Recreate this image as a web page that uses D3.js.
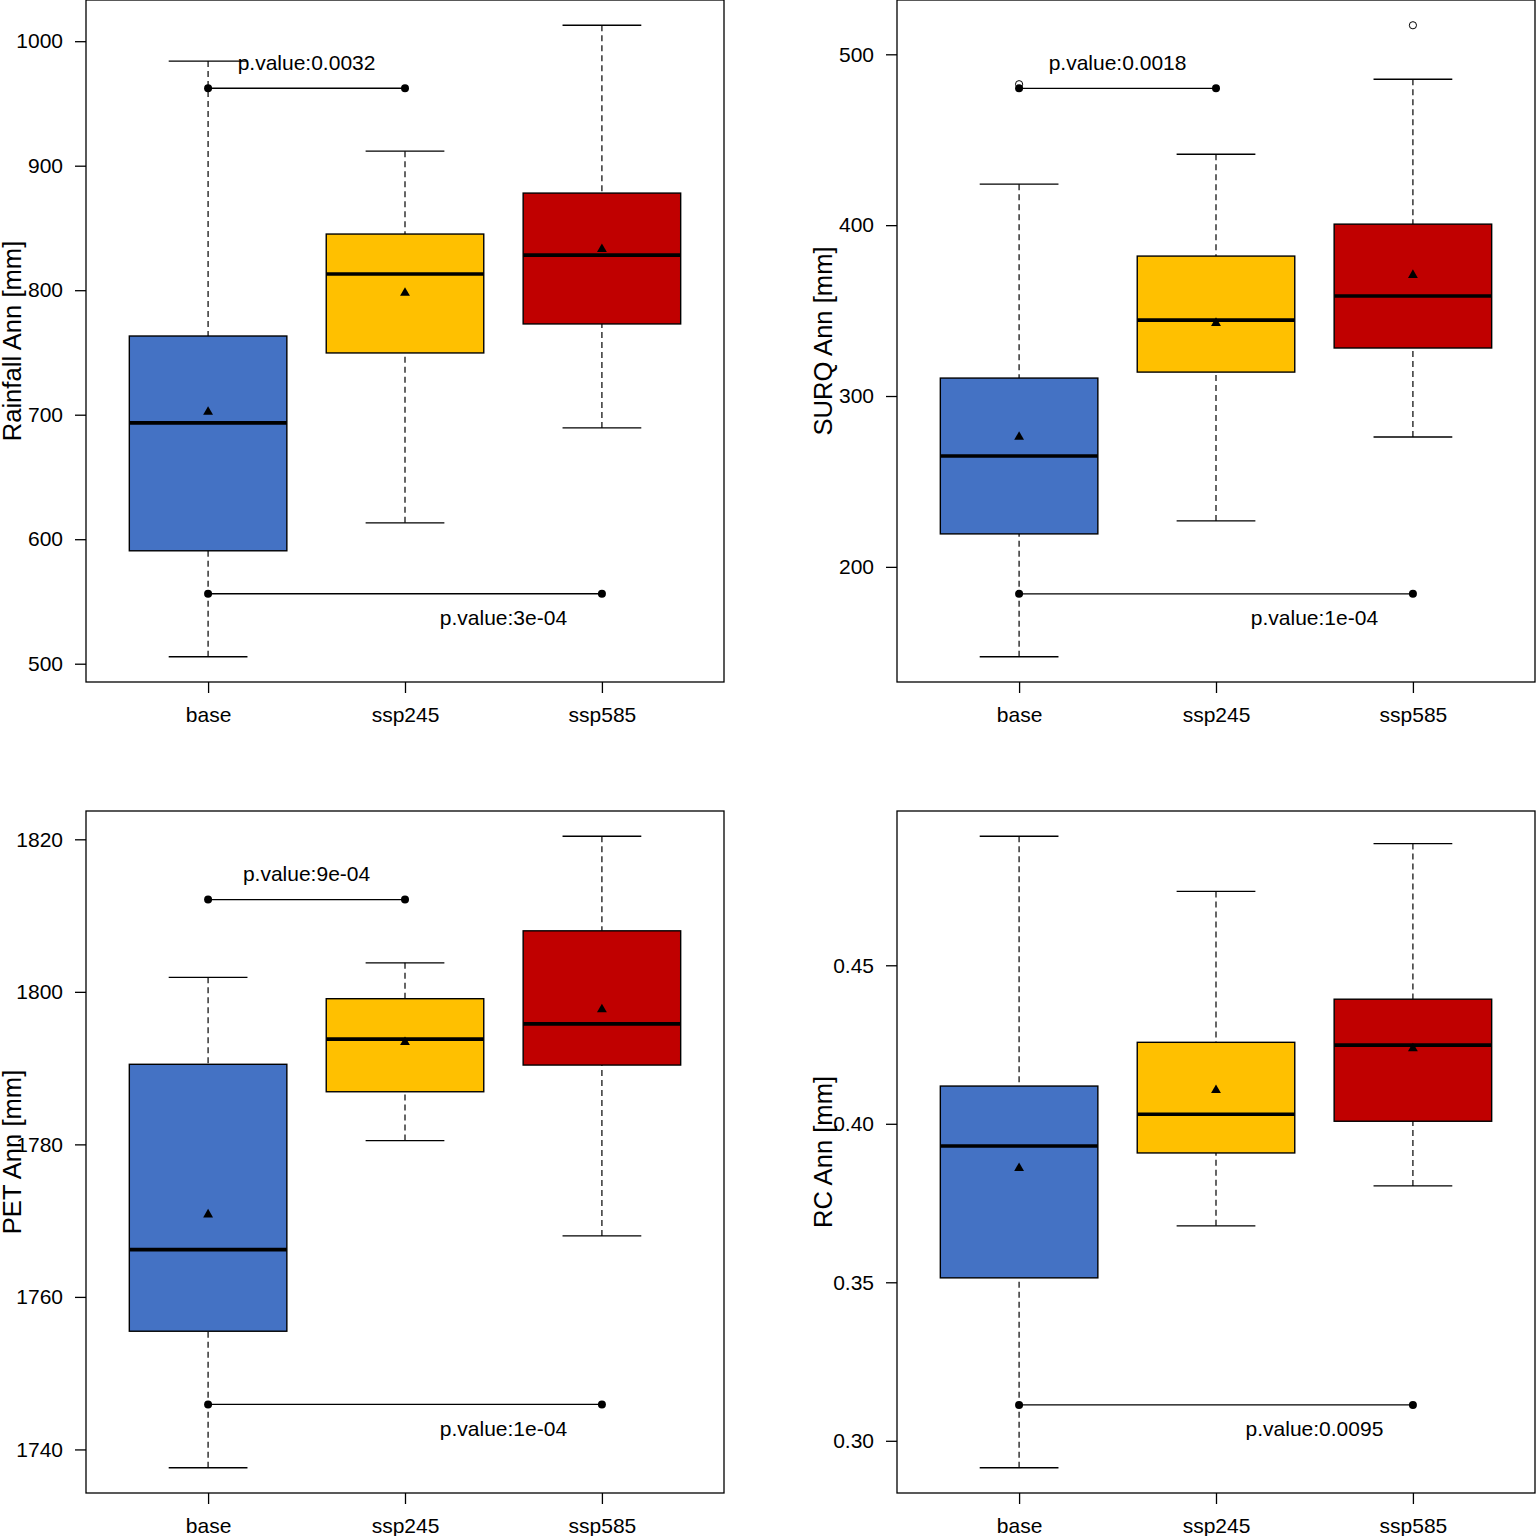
<!DOCTYPE html>
<html>
<head>
<meta charset="utf-8">
<script src="https://cdn.jsdelivr.net/npm/d3@7"></script>
<style>
  body { margin: 0; background: #fff; }
  svg { display: block; }
  text { font-family: "Liberation Sans", Arial, sans-serif; fill: #000; }
</style>
</head>
<body>
<svg id="chart"></svg>
<script>
// groups and fills
const groups = ["base", "ssp245", "ssp585"];
const fills = ["#4472C4", "#FFC000", "#C00000"];

// box stats per group: [lower whisker, Q1, median, Q3, upper whisker]
const rainfallBox = [[505.6, 590.7, 693.4, 763.2, 984.0], [613.2, 749.6, 813.0, 845.1, 911.7], [689.4, 772.9, 828.2, 878.0, 1012.8]];
const rainfallMean = [702.2, 797.8, 833.0];
const rainfallOut = [[], [], []];
const rainfallTicks = [500, 600, 700, 800, 900, 1000];

const surqBox = [[147.4, 219.3, 264.9, 310.5, 424.0], [226.9, 314.0, 344.4, 381.9, 441.5], [276.0, 328.1, 358.5, 400.6, 485.4]];
const surqMean = [276.0, 342.7, 370.8];
const surqOut = [[482.5], [], [517.0]];
const surqTicks = [200, 300, 400, 500];

const petBox = [[1737.6, 1755.5, 1766.2, 1790.5, 1801.9], [1780.5, 1786.9, 1793.8, 1799.1, 1803.8], [1768.0, 1790.4, 1795.8, 1808.0, 1820.4]];
const petMean = [1770.8, 1793.4, 1797.7];
const petOut = [[], [], []];
const petTicks = [1740, 1760, 1780, 1800, 1820];

const rcBox = [[0.2915, 0.3514, 0.3930, 0.4119, 0.4907], [0.3678, 0.3908, 0.4030, 0.4257, 0.4733], [0.3804, 0.4008, 0.4248, 0.4393, 0.4884]];
const rcMean = [0.3860, 0.4106, 0.4238];
const rcOut = [[], [], []];
const rcTicks = [0.30, 0.35, 0.40, 0.45];

// p-value brackets: [y value, label], upper is base-ssp245, lower is base-ssp585
const rainfallP = [[962.2, "p.value:0.0032"], [556.2, "p.value:3e-04"]];
const surqP = [[480.1, "p.value:0.0018"], [184.2, "p.value:1e-04"]];
const petP = [[1812.1, "p.value:9e-04"], [1745.9, "p.value:1e-04"]];
const rcP = [null, [0.3113, "p.value:0.0095"]];

const panels = [
  { title: "Rainfall Ann [mm]", box: rainfallBox, mean: rainfallMean, out: rainfallOut, ticks: rainfallTicks, p: rainfallP, fmt: d3.format("d"), x0: 86, y0: 0 },
  { title: "SURQ Ann [mm]", box: surqBox, mean: surqMean, out: surqOut, ticks: surqTicks, p: surqP, fmt: d3.format("d"), x0: 897, y0: 0 },
  { title: "PET Ann [mm]", box: petBox, mean: petMean, out: petOut, ticks: petTicks, p: petP, fmt: d3.format("d"), x0: 86, y0: 811 },
  { title: "RC Ann [mm]", box: rcBox, mean: rcMean, out: rcOut, ticks: rcTicks, p: rcP, fmt: d3.format(".2f"), x0: 897, y0: 811 }
];

const W = 1536, H = 1536;
const pw = 638, ph = 682;

const svg = d3.select("#chart").attr("width", W).attr("height", H);

panels.forEach(drawPanel);

function drawPanel(p) {
  const g = svg.append("g").attr("transform", `translate(${p.x0},${p.y0})`);

  // R style: 4% padding on both axes
  const all = p.box.flat().concat(p.out.flat());
  const lo = d3.min(all), hi = d3.max(all), pad = (hi - lo) * 0.04;
  const y = d3.scaleLinear().domain([lo - pad, hi + pad]).range([ph, 0]);
  const x = d3.scaleLinear().domain([0.38, 3.62]).range([0, pw]);
  const bw = (x(2) - x(1)) * 0.8;

  const items = groups.map((name, i) => ({ name, i, s: p.box[i], mean: p.mean[i], out: p.out[i] }));

  const bx = g.selectAll(".bx").data(items).enter().append("g").attr("class", "bx");

  // whiskers
  bx.append("line")
    .attr("x1", d => x(d.i + 1)).attr("x2", d => x(d.i + 1))
    .attr("y1", d => y(d.s[0])).attr("y2", d => y(d.s[1]))
    .attr("stroke", "#000").attr("stroke-width", 1.2).attr("stroke-dasharray", "6,4");
  bx.append("line")
    .attr("x1", d => x(d.i + 1)).attr("x2", d => x(d.i + 1))
    .attr("y1", d => y(d.s[4])).attr("y2", d => y(d.s[3]))
    .attr("stroke", "#000").attr("stroke-width", 1.2).attr("stroke-dasharray", "6,4");
  // caps
  [0, 4].forEach(k => {
    bx.append("line")
      .attr("x1", d => x(d.i + 1) - bw / 4).attr("x2", d => x(d.i + 1) + bw / 4)
      .attr("y1", d => y(d.s[k])).attr("y2", d => y(d.s[k]))
      .attr("stroke", "#000").attr("stroke-width", 1.3);
  });
  // boxes
  bx.append("rect")
    .attr("x", d => x(d.i + 1) - bw / 2).attr("width", bw)
    .attr("y", d => y(d.s[3])).attr("height", d => y(d.s[1]) - y(d.s[3]))
    .attr("fill", d => fills[d.i]).attr("stroke", "#000").attr("stroke-width", 1.4);
  // medians
  bx.append("line")
    .attr("x1", d => x(d.i + 1) - bw / 2).attr("x2", d => x(d.i + 1) + bw / 2)
    .attr("y1", d => y(d.s[2])).attr("y2", d => y(d.s[2]))
    .attr("stroke", "#000").attr("stroke-width", 3.6);
  // outliers
  bx.selectAll(".out").data(d => d.out.map(v => ({ i: d.i, v }))).enter().append("circle")
    .attr("cx", d => x(d.i + 1)).attr("cy", d => y(d.v)).attr("r", 3.6)
    .attr("fill", "none").attr("stroke", "#000").attr("stroke-width", 1);
  // means
  bx.append("path")
    .attr("d", d3.symbol().type(d3.symbolTriangle).size(42))
    .attr("transform", d => `translate(${x(d.i + 1)},${y(d.mean)})`)
    .attr("fill", "#000");

  // p-value brackets
  const brackets = [];
  if (p.p[0]) brackets.push({ a: 1, b: 2, v: p.p[0][0], label: p.p[0][1], tx: (x(1) + x(2)) / 2, dy: -26 });
  if (p.p[1]) brackets.push({ a: 1, b: 3, v: p.p[1][0], label: p.p[1][1], tx: (x(2) + x(3)) / 2, dy: 24 });
  const br = g.selectAll(".br").data(brackets).enter().append("g").attr("class", "br");
  br.append("line")
    .attr("x1", d => x(d.a)).attr("x2", d => x(d.b))
    .attr("y1", d => y(d.v)).attr("y2", d => y(d.v))
    .attr("stroke", "#000").attr("stroke-width", 1.3);
  br.selectAll("circle").data(d => [[d.a, d.v], [d.b, d.v]]).enter().append("circle")
    .attr("cx", d => x(d[0])).attr("cy", d => y(d[1])).attr("r", 4).attr("fill", "#000");
  br.append("text")
    .attr("x", d => d.tx).attr("y", d => y(d.v) + d.dy).attr("dy", "0.35em")
    .attr("text-anchor", "middle").attr("font-size", 21).text(d => d.label);

  // frame
  g.append("rect").attr("x", 0).attr("y", 0).attr("width", pw).attr("height", ph)
    .attr("fill", "none").attr("stroke", "#000").attr("stroke-width", 1.3);

  // y axis
  const ya = g.append("g").call(d3.axisLeft(y).tickValues(p.ticks).tickFormat(p.fmt).tickSize(11).tickPadding(12));
  ya.select(".domain").remove();
  ya.selectAll(".tick line").attr("stroke", "#000").attr("stroke-width", 1.3);
  ya.selectAll(".tick text").attr("font-size", 21).attr("font-family", "Liberation Sans, Arial, sans-serif").attr("fill", "#000");

  // x axis
  const xa = g.append("g").attr("transform", `translate(0,${ph})`)
    .call(d3.axisBottom(x).tickValues([1, 2, 3]).tickFormat(d => groups[d - 1]).tickSize(11).tickPadding(14));
  xa.select(".domain").remove();
  xa.selectAll(".tick line").attr("stroke", "#000").attr("stroke-width", 1.3);
  xa.selectAll(".tick text").attr("font-size", 21).attr("font-family", "Liberation Sans, Arial, sans-serif").attr("fill", "#000");

  // y title
  g.append("text")
    .attr("transform", `translate(-65,${ph / 2}) rotate(-90)`)
    .attr("text-anchor", "middle").attr("font-size", 25.6).text(p.title);
}
</script>
</body>
</html>
